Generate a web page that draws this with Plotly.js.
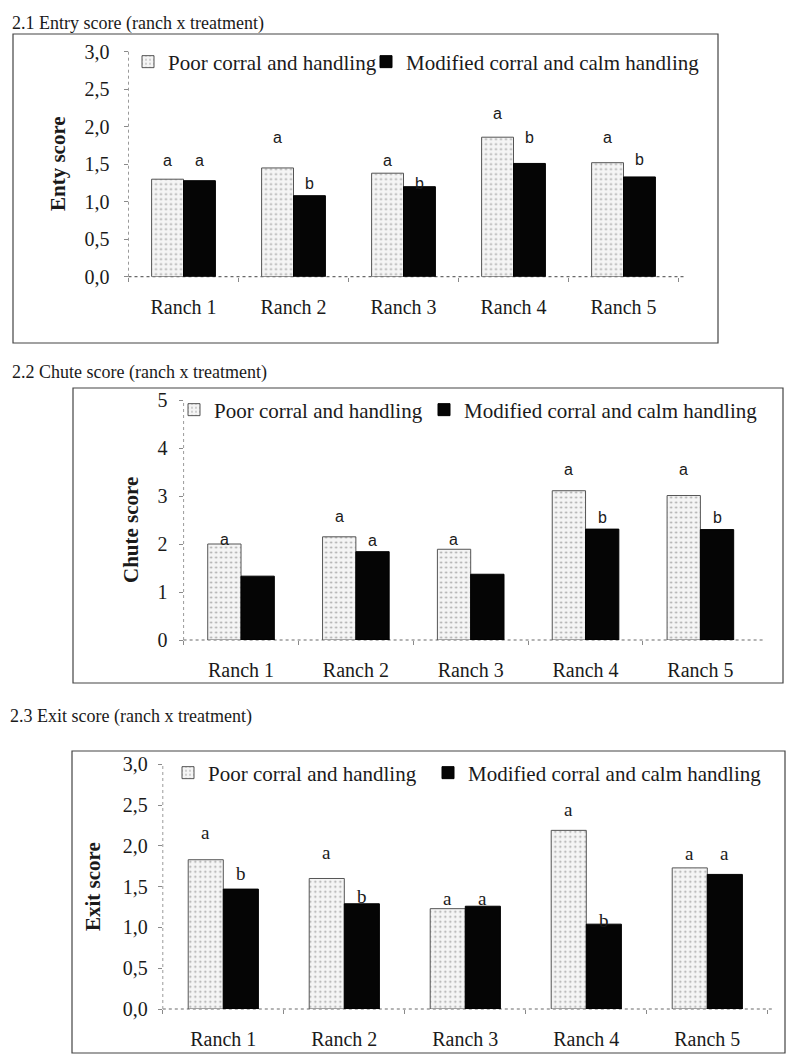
<!DOCTYPE html>
<html><head><meta charset="utf-8">
<script src="https://cdn.plot.ly/plotly-3.0.1.min.js"></script>
<style>html,body{margin:0;padding:0;background:#fff}#chart{width:800px;height:1063px}</style>
</head><body><div id="chart"></div>
<script>
// ---------- data ----------
const ranches = ['Ranch 1','Ranch 2','Ranch 3','Ranch 4','Ranch 5'];
const seriesNames = ['Poor corral and handling','Modified corral and calm handling'];
const panelTitles = ['2.1 Entry score (ranch x treatment)','2.2 Chute score (ranch x treatment)','2.3 Exit score (ranch x treatment)'];
const yTitles = ['Enty score','Chute score','Exit score'];

const entryPoor     = [1.30, 1.45, 1.38, 1.86, 1.52];
const entryModified = [1.28, 1.08, 1.20, 1.51, 1.33];
const chutePoor     = [2.00, 2.15, 1.89, 3.11, 3.01];
const chuteModified = [1.33, 1.84, 1.37, 2.31, 2.30];
const exitPoor      = [1.83, 1.60, 1.23, 2.19, 1.73];
const exitModified  = [1.47, 1.29, 1.26, 1.04, 1.65];

// significance letters and the score level at which each is printed
const entryLettersPoor     = ['a','a','a','a','a'];
const entryLettersModified = ['a','b','b','b','b'];
const entryLetterYPoor     = [1.55, 1.86, 1.55, 2.17, 1.86];
const entryLetterYModified = [1.55, 1.24, 1.24, 1.86, 1.56];
const chuteLettersPoor     = ['a','a','a','a','a'];
const chuteLettersModified = ['', 'a', '', 'b', 'b'];
const chuteLetterYPoor     = [2.10, 2.57, 2.10, 3.56, 3.56];
const chuteLetterYModified = [0, 2.07, 0, 2.56, 2.56];
const exitLettersPoor      = ['a','a','a','a','a'];
const exitLettersModified  = ['b','b','a','b','a'];
const exitLetterYPoor      = [2.17, 1.92, 1.36, 2.44, 1.91];
const exitLetterYModified  = [1.66, 1.38, 1.36, 1.09, 1.91];

// ---------- layout geometry (pixels) ----------
const W = 800, H = 1063;
const px = x => x / W;
const py = y => 1 - y / H;
const SERIF = 'Liberation Serif';
const SANS = 'Liberation Sans';

const panels = [
  { poor: entryPoor, mod: entryModified,
    lp: entryLettersPoor, lm: entryLettersModified, lyp: entryLetterYPoor, lym: entryLetterYModified,
    x0: 128.5, x1: 678.5, yTop: 51.7, yBot: 276.7, range: [0, 3], dtick: 0.5, fmt: '.1f',
    box: [13, 34, 718, 343], titleY: 24, titleX: 10, ytX: 58, ytY: 163,
    legY: 62, legX: [168, 406], barHalf: 16, letterFont: SANS, letterSize: 16, yStand: 10 },
  { poor: chutePoor, mod: chuteModified,
    lp: chuteLettersPoor, lm: chuteLettersModified, lyp: chuteLetterYPoor, lym: chuteLetterYModified,
    x0: 183.6, x1: 757.8, yTop: 400, yBot: 640, range: [0, 5], dtick: 1, fmt: 'd',
    box: [73, 388, 783, 683], titleY: 372, titleX: 10, ytX: 131, ytY: 530,
    legY: 410, legX: [214, 464], barHalf: 16.8, letterFont: SANS, letterSize: 16, yStand: 7 },
  { poor: exitPoor, mod: exitModified,
    lp: exitLettersPoor, lm: exitLettersModified, lyp: exitLetterYPoor, lym: exitLetterYModified,
    x0: 162.8, x1: 767.8, yTop: 764.3, yBot: 1009, range: [0, 3], dtick: 0.5, fmt: '.1f',
    box: [72, 751, 785, 1053], titleY: 716, titleX: 8, ytX: 93, ytY: 887,
    legY: 773, legX: [208, 468], barHalf: 17.5, letterFont: SERIF, letterSize: 19, yStand: 6 }
];

const data = [];
const layout = {
  width: W, height: H,
  margin: { l: 0, r: 0, t: 0, b: 0 },
  paper_bgcolor: '#fff', plot_bgcolor: 'rgba(0,0,0,0)',
  separators: ',.',
  showlegend: true,
  barmode: 'group', bargap: 0.42, bargroupgap: 0,
  font: { family: SERIF, color: '#1a1a1a' },
  annotations: [], shapes: []
};

panels.forEach((p, i) => {
  const s = i === 0 ? '' : String(i + 1);
  const xa = 'x' + s, ya = 'y' + s;
  const legA = 'legend' + (i === 0 ? '' : String(2 * i + 1));
  const legB = 'legend' + String(2 * i + 2);

  data.push({
    type: 'bar', x: ranches, y: p.poor, name: seriesNames[0],
    xaxis: xa, yaxis: ya, legend: legA, showlegend: true,
    marker: { color: '#f1f1f1', line: { color: '#555', width: 1 },
              pattern: { shape: '.', fgcolor: '#a8a8a8', bgcolor: '#f5f5f5', size: 5, solidity: 0.15 } },
    hoverinfo: 'x+y'
  });
  data.push({
    type: 'bar', x: ranches, y: p.mod, name: seriesNames[1],
    xaxis: xa, yaxis: ya, legend: legB, showlegend: true,
    marker: { color: '#050505', line: { color: '#000', width: 1 } },
    hoverinfo: 'x+y'
  });

  layout['xaxis' + s] = {
    domain: [px(p.x0), px(p.x1)], anchor: ya,
    showline: false,
    ticks: 'outside', ticklen: 4, tickcolor: '#8a8a8a', tickson: 'boundaries',
    showgrid: false, zeroline: false, fixedrange: true,
    tickfont: { family: SERIF, size: 20, color: '#1a1a1a' },
    ticklabelstandoff: 16
  };
  layout['yaxis' + s] = {
    domain: [py(p.yBot), py(p.yTop)], anchor: xa, range: p.range,
    dtick: p.dtick, tick0: 0, tickformat: p.fmt,
    showline: false,
    ticks: 'outside', ticklen: 4, tickcolor: '#8a8a8a',
    showgrid: false, zeroline: false, fixedrange: true,
    tickfont: { family: SERIF, size: 20, color: '#1a1a1a' },
    ticklabelstandoff: p.yStand
  };

  // dotted axis lines, as in the scanned figure
  layout.shapes.push({
    type: 'line', xref: xa + ' domain', yref: ya + ' domain', x0: 0, x1: 1.01, y0: 0, y1: 0,
    line: { color: '#6a6a6a', width: 1.2, dash: 'dot' }, layer: 'below'
  });
  layout.shapes.push({
    type: 'line', xref: xa + ' domain', yref: ya + ' domain', x0: 0, x1: 0, y0: 0, y1: 1,
    line: { color: '#9a9a9a', width: 1, dash: 'dot' }, layer: 'below'
  });

  [[legA, p.legX[0]], [legB, p.legX[1]]].forEach(([name, tx]) => {
    layout[name] = {
      x: px(tx - 40), y: py(p.legY), xanchor: 'left', yanchor: 'middle',
      orientation: 'h', bgcolor: 'rgba(0,0,0,0)', borderwidth: 0,
      font: { family: SERIF, size: 21, color: '#1a1a1a' }, itemwidth: 30
    };
  });

  // frame around panel
  layout.shapes.push({
    type: 'rect', xref: 'paper', yref: 'paper',
    x0: px(p.box[0]), x1: px(p.box[2]), y0: py(p.box[3]), y1: py(p.box[1]),
    line: { color: '#444', width: 1.2 }, fillcolor: 'rgba(0,0,0,0)', layer: 'below'
  });

  // panel title
  layout.annotations.push({
    xref: 'paper', yref: 'paper', x: px(p.titleX), y: py(p.titleY),
    xanchor: 'left', yanchor: 'middle', showarrow: false, text: panelTitles[i],
    font: { family: SERIF, size: 18, color: '#1a1a1a' }
  });
  // y-axis title
  layout.annotations.push({
    xref: 'paper', yref: 'paper', x: px(p.ytX), y: py(p.ytY),
    xanchor: 'center', yanchor: 'middle', showarrow: false, textangle: -90,
    text: '<b>' + yTitles[i] + '</b>',
    font: { family: SERIF, size: 21, color: '#1a1a1a' }
  });
  // significance letters
  ranches.forEach((r, k) => {
    if (p.lp[k]) layout.annotations.push({
      xref: xa, yref: ya, x: r, y: p.lyp[k], xshift: -p.barHalf, showarrow: false,
      text: p.lp[k], font: { family: p.letterFont, size: p.letterSize, color: '#1a1a1a' }
    });
    if (p.lm[k]) layout.annotations.push({
      xref: xa, yref: ya, x: r, y: p.lym[k], xshift: p.barHalf, showarrow: false,
      text: p.lm[k], font: { family: p.letterFont, size: p.letterSize, color: '#1a1a1a' }
    });
  });
});

Plotly.newPlot('chart', data, layout, { displayModeBar: false, staticPlot: true });
</script>
</body></html>
